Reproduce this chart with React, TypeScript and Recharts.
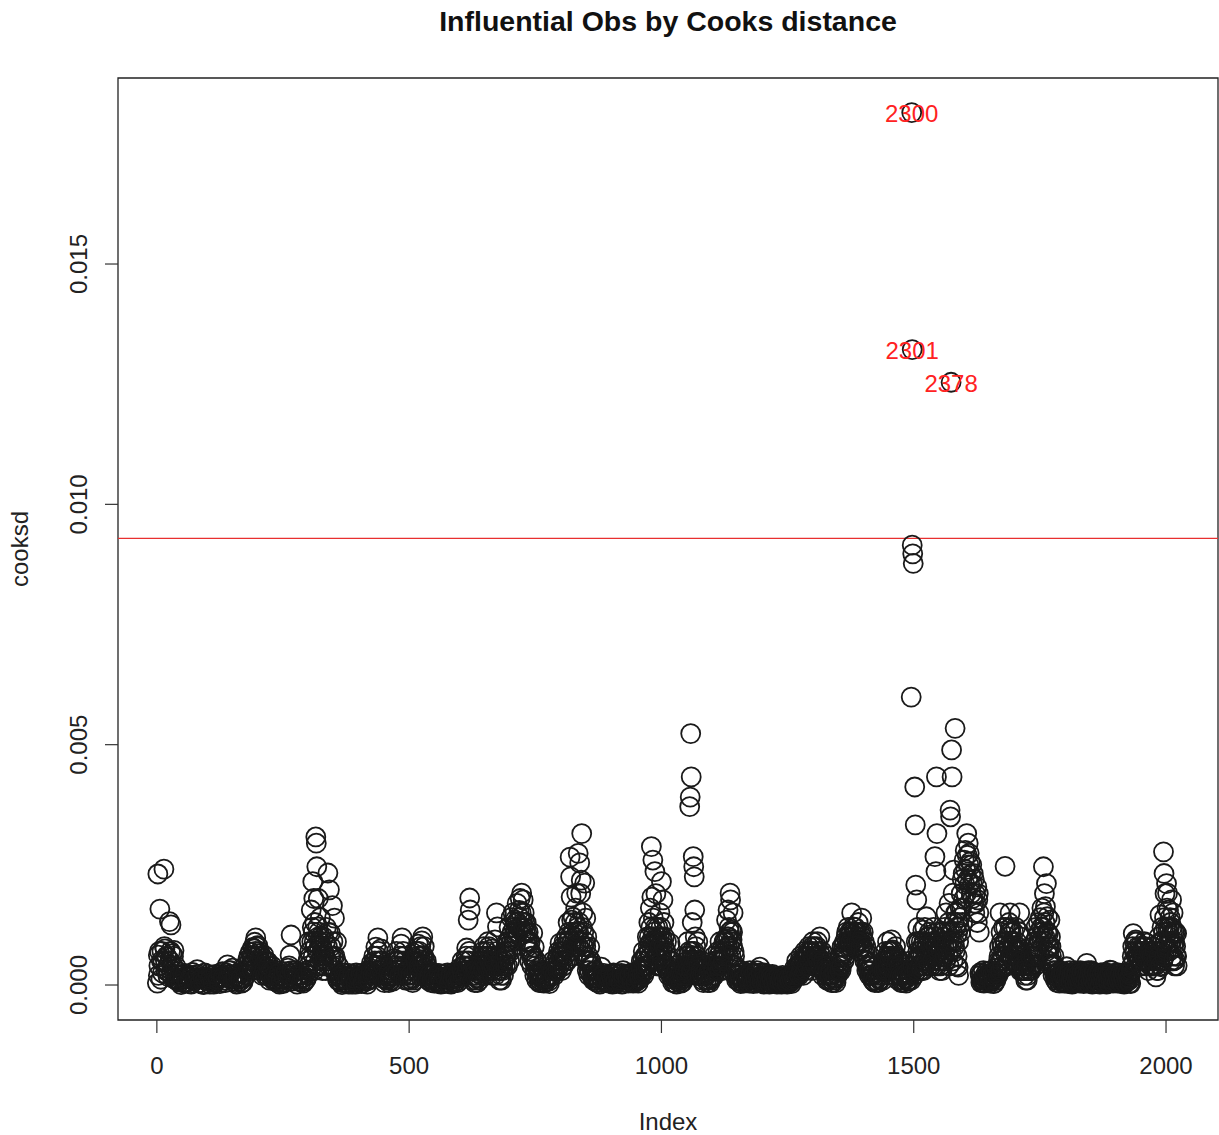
import React from 'react';
import { ReferenceArea, ReferenceLine, Scatter, ScatterChart, XAxis, YAxis } from 'recharts';

const obsStart: [number, number][] = [
  [1, 0.00004], [2, 0.00231], [3, 0.00062], [5, 0.0007], [6, 0.00158], [8, 0.00012], [10, 0.0007], [12, 0.00048],
  [14, 0.00241], [16, 0.00075], [18, 0.0003], [20, 0.00058], [22, 0.00018], [25, 0.00132], [27, 0.0007], [28, 0.00125],
  [30, 0.00065], [32, 0.0004], [34, 0.00072], [36, 0.00022], [38, 0.00012], [42, 0.00028], [46, 0.00006], [50, 0.00022],
  [55, 0.00004], [60, 0.00018], [65, 0.00003], [70, 0.0002], [75, 0.00008], [80, 0.00032], [85, 0.00015], [90, 0.00002],
  [95, 0.00025], [100, 0.0001], [105, 0.00002], [110, 0.0002], [115, 0.00005], [120, 0.00015], [125, 0.00003],
  [130, 0.00028], [135, 0.0001], [140, 0.00042], [145, 0.00022], [150, 0.00035], [155, 0.00005], [160, 0.00018],
  [165, 0.00008], [170, 0.00025], [175, 0.0004], [180, 0.00052], [185, 0.00068], [188, 0.0004], [190, 0.00078],
  [194, 0.00089], [196, 0.00098], [198, 0.0006], [200, 0.00082], [204, 0.0007], [208, 0.00045], [212, 0.00062],
  [216, 0.0003], [220, 0.00048], [224, 0.00022], [228, 0.0004], [232, 0.00012], [236, 0.0003], [240, 0.00005],
  [245, 0.00018], [250, 0.00003], [255, 0.00022], [260, 0.00035], [264, 0.00062], [266, 0.00104], [270, 0.00015],
  [275, 0.0003], [280, 0.00008], [285, 0.0002], [290, 0.00004], [295, 0.00025], [300, 0.0005],
];

const obsFirstPeak: [number, number][] = [
  [302, 0.0009], [306, 0.00156], [308, 0.0012], [309, 0.00215], [311, 0.0018], [313, 0.0013], [315, 0.00308],
  [316, 0.00295], [317, 0.00246], [319, 0.00121], [320, 0.0018], [322, 0.0008], [324, 0.0014], [326, 0.0006],
  [330, 0.001], [332, 0.0004], [336, 0.0012], [339, 0.00233], [342, 0.00198], [344, 0.00108], [345, 0.0008],
  [348, 0.00165], [350, 0.0006], [352, 0.00139], [354, 0.0003], [356, 0.0009], [358, 0.00012], [360, 0.0004],
];

const obsMiddle: [number, number][] = [
  [365, 0.00005], [370, 0.0002], [375, 0.0001], [380, 0.00002], [385, 0.00018], [390, 0.00006], [395, 0.00025],
  [400, 0.0001], [405, 0.00003], [410, 0.0002], [415, 0.00008], [420, 0.0003], [425, 0.00045], [430, 0.0006],
  [434, 0.00079], [438, 0.00098], [440, 0.0005], [444, 0.00075], [448, 0.0003], [452, 0.00012], [456, 0.00025],
  [460, 0.00005], [465, 0.0003], [470, 0.00055], [475, 0.0007], [480, 0.0004], [484, 0.00085], [486, 0.00098],
  [490, 0.0006], [494, 0.0003], [498, 0.0001], [502, 0.00035], [506, 0.00015], [510, 0.0005], [514, 0.0007],
  [518, 0.00085], [522, 0.0006], [525, 0.00092], [527, 0.001], [530, 0.0008], [534, 0.0005], [538, 0.0003],
  [542, 0.00012], [546, 0.00025], [550, 0.00004], [555, 0.0002], [560, 0.00008], [565, 0.00022], [570, 0.00003],
  [575, 0.00018], [580, 0.0001], [585, 0.00025], [590, 0.00005], [595, 0.0002], [600, 0.00035], [605, 0.0005],
  [610, 0.0003], [614, 0.00077], [617, 0.00135], [620, 0.00181], [621, 0.00156], [624, 0.0006], [628, 0.00035],
  [632, 0.0001], [636, 0.00025], [640, 0.0004], [644, 0.0006], [648, 0.0008], [652, 0.00045], [656, 0.0009],
  [660, 0.0006], [664, 0.00075], [668, 0.0003], [670, 0.00094], [673, 0.0015], [675, 0.00121], [678, 0.0005],
  [682, 0.0002], [686, 0.00035], [690, 0.0006], [694, 0.0009], [698, 0.0012], [702, 0.0014], [706, 0.0015],
  [710, 0.00135], [714, 0.0017], [718, 0.00155], [720, 0.0018], [723, 0.00191], [726, 0.00177], [728, 0.0015],
  [732, 0.0013], [736, 0.0011], [740, 0.0009], [745, 0.00108], [748, 0.00079], [752, 0.0005], [756, 0.00025],
  [760, 0.0001], [765, 0.0003], [770, 0.00005], [775, 0.0002], [780, 0.00035], [785, 0.0005], [790, 0.0003],
  [795, 0.0006], [799, 0.00087], [803, 0.0005], [808, 0.0007], [812, 0.001], [815, 0.0013], [819, 0.00266],
  [820, 0.00225], [821, 0.00183], [822, 0.00135], [825, 0.00141], [828, 0.001], [830, 0.0016], [832, 0.00191],
  [834, 0.0012], [835, 0.00274], [836, 0.0008], [838, 0.00254], [840, 0.0019], [841, 0.00218], [842, 0.00315],
  [844, 0.0015], [846, 0.0011], [848, 0.00212], [850, 0.00139], [852, 0.001], [855, 0.0006], [858, 0.00079],
  [862, 0.0004], [866, 0.00015],
];

const obsThousand: [number, number][] = [
  [870, 0.0003], [875, 0.00005], [881, 0.00037], [885, 0.0002], [890, 0.00005], [895, 0.00018], [900, 0.00008],
  [905, 0.00025], [910, 0.00003], [915, 0.0002], [920, 0.0001], [924, 0.0003], [928, 0.00005], [932, 0.0002],
  [936, 0.00008], [940, 0.00025], [944, 0.00004], [948, 0.0002], [952, 0.0001], [956, 0.0003], [960, 0.0005],
  [964, 0.0007], [968, 0.0004], [972, 0.001], [975, 0.0013], [977, 0.00087], [978, 0.0016], [980, 0.00288],
  [981, 0.00183], [983, 0.0026], [984, 0.00139], [985, 0.0011], [987, 0.00236], [989, 0.0019], [991, 0.0006],
  [993, 0.0012], [995, 0.0004], [997, 0.0015], [1000, 0.00215], [1001, 0.001], [1003, 0.00177], [1005, 0.0013],
  [1008, 0.0007], [1010, 0.0009], [1013, 0.0004], [1017, 0.00087], [1020, 0.0005], [1024, 0.0002], [1028, 0.0004],
  [1032, 0.00008], [1036, 0.0003], [1040, 0.00012], [1044, 0.0003], [1048, 0.0006], [1052, 0.0009], [1055, 0.0004],
  [1056, 0.00371], [1057, 0.00391], [1058, 0.00523], [1059, 0.00433], [1061, 0.0013], [1063, 0.00267],
  [1064, 0.00246], [1065, 0.00225], [1066, 0.00156], [1067, 0.001], [1068, 0.0008], [1070, 0.0006], [1072, 0.0009],
  [1075, 0.0003], [1080, 0.0005], [1085, 0.0002], [1090, 0.00035], [1095, 0.0001], [1100, 0.0003], [1104, 0.0006],
  [1108, 0.0004], [1112, 0.0007], [1116, 0.0009], [1120, 0.0006], [1123, 0.00067], [1126, 0.00094], [1129, 0.00135],
  [1132, 0.00156], [1134, 0.0012], [1136, 0.00191], [1137, 0.00177], [1139, 0.00114], [1140, 0.00094], [1142, 0.0015],
  [1145, 0.0006], [1148, 0.00035], [1152, 0.0001],
];

const obsLate: [number, number][] = [
  [1156, 0.0003], [1160, 0.00005], [1165, 0.0002], [1170, 0.00008], [1175, 0.0003], [1180, 0.00012], [1185, 0.00025],
  [1190, 0.00004], [1195, 0.00037], [1200, 0.0002], [1205, 0.00005], [1210, 0.00018], [1215, 0.00008], [1220, 0.00022],
  [1225, 0.00003], [1230, 0.00015], [1235, 0.00006], [1240, 0.0002], [1245, 0.00003], [1250, 0.00015], [1255, 0.00005],
  [1260, 0.0002], [1264, 0.00035], [1268, 0.0005], [1272, 0.0003], [1276, 0.0006], [1280, 0.0004], [1284, 0.0007],
  [1288, 0.00058], [1292, 0.0008], [1296, 0.0005], [1300, 0.0009], [1304, 0.0006], [1308, 0.0008], [1312, 0.00035],
  [1314, 0.001], [1318, 0.0007], [1322, 0.0004], [1326, 0.0006], [1330, 0.0002], [1334, 0.0004], [1338, 0.0001],
  [1342, 0.0003], [1346, 0.00005], [1350, 0.0003], [1354, 0.00058], [1358, 0.0008], [1362, 0.0005], [1366, 0.001],
  [1370, 0.0012], [1374, 0.0008], [1377, 0.0015], [1380, 0.00121], [1383, 0.00094], [1386, 0.0011], [1390, 0.0013],
  [1394, 0.0009], [1397, 0.00139], [1400, 0.0011], [1404, 0.0007], [1408, 0.0004], [1412, 0.0002], [1416, 0.0004],
  [1420, 0.00008], [1425, 0.0002], [1430, 0.00005], [1435, 0.0003], [1440, 0.0005], [1444, 0.0007], [1448, 0.0009],
  [1452, 0.0006], [1456, 0.00094], [1458, 0.00073], [1460, 0.00052], [1464, 0.0008], [1468, 0.0003], [1472, 0.0005],
  [1476, 0.0001], [1480, 0.00025], [1485, 0.00004], [1490, 0.0002],
];

const obsBigPeak: [number, number][] = [
  [1494, 0.0005], [1495, 0.00599], [1496, 0.01815], [1497, 0.01322], [1497, 0.00915], [1498, 0.00897], [1499, 0.00877],
  [1502, 0.00412], [1503, 0.00333], [1504, 0.00208], [1506, 0.00177], [1508, 0.0012], [1510, 0.0006], [1512, 0.0003],
  [1515, 0.0009], [1518, 0.00114], [1520, 0.0005], [1522, 0.0012], [1525, 0.00142], [1527, 0.0008], [1530, 0.001],
  [1533, 0.0006], [1536, 0.0009], [1539, 0.0012], [1542, 0.00267], [1544, 0.00236], [1545, 0.00433], [1546, 0.00315],
  [1548, 0.0011], [1550, 0.0007], [1553, 0.0004], [1556, 0.0009], [1558, 0.00058], [1561, 0.0012], [1564, 0.0015],
  [1567, 0.0008], [1570, 0.0017], [1572, 0.00364], [1573, 0.0035], [1574, 0.01254], [1575, 0.00489], [1576, 0.00433],
  [1578, 0.00191], [1579, 0.00239], [1580, 0.0013], [1582, 0.00534], [1583, 0.0015], [1585, 0.0015], [1587, 0.00108],
  [1588, 0.00037], [1590, 0.0012], [1592, 0.0016], [1594, 0.0019], [1596, 0.0022], [1598, 0.00232], [1600, 0.0026],
  [1602, 0.0028], [1605, 0.00315], [1608, 0.00295], [1610, 0.00274], [1612, 0.00256], [1615, 0.0025], [1618, 0.00232],
  [1620, 0.0022], [1622, 0.0019], [1625, 0.00204], [1627, 0.00177], [1629, 0.0015], [1631, 0.00025], [1634, 0.0001],
  [1638, 0.0003],
];

const obsEnd: [number, number][] = [
  [1642, 0.00005], [1646, 0.0002], [1650, 0.00008], [1655, 0.00025], [1660, 0.00004], [1665, 0.0002], [1668, 0.0005],
  [1671, 0.0015], [1673, 0.0011], [1675, 0.0008], [1678, 0.0012], [1681, 0.00247], [1683, 0.0006], [1686, 0.001],
  [1689, 0.0013], [1691, 0.0015], [1693, 0.0009], [1696, 0.0005], [1699, 0.0008], [1702, 0.0012], [1705, 0.0004],
  [1708, 0.0007], [1710, 0.0015], [1712, 0.001], [1715, 0.0006], [1718, 0.0003], [1721, 0.0005], [1725, 0.0001],
  [1730, 0.0003], [1735, 0.0006], [1739, 0.0009], [1742, 0.0012], [1745, 0.0008], [1748, 0.0011], [1751, 0.0014],
  [1754, 0.0016], [1757, 0.00246], [1759, 0.0019], [1761, 0.00163], [1763, 0.00211], [1765, 0.00142], [1767, 0.00107],
  [1770, 0.00135], [1772, 0.0008], [1775, 0.00045], [1778, 0.0006], [1782, 0.0003], [1786, 0.00015], [1790, 0.0003],
  [1795, 0.00005], [1800, 0.0002], [1803, 0.00038], [1808, 0.0001], [1812, 0.00025], [1816, 0.00005], [1820, 0.0003],
  [1825, 0.00012], [1830, 0.0003], [1835, 0.00005], [1840, 0.0002], [1843, 0.00045], [1848, 0.0001], [1852, 0.0003],
  [1856, 0.00005], [1860, 0.0002], [1865, 0.0001], [1870, 0.00025], [1875, 0.00004], [1880, 0.0002], [1885, 0.00008],
  [1889, 0.00031], [1893, 0.00005], [1898, 0.0002], [1902, 0.0001], [1906, 0.00025], [1910, 0.00004], [1915, 0.00018],
  [1920, 0.00006], [1925, 0.0002], [1930, 0.00003], [1935, 0.00107], [1937, 0.0007], [1940, 0.00094], [1942, 0.0009],
  [1945, 0.0006], [1948, 0.0008], [1951, 0.0004], [1954, 0.0007], [1957, 0.0009], [1960, 0.0005], [1962, 0.00087],
  [1965, 0.0003], [1968, 0.0006], [1971, 0.0004], [1974, 0.0008], [1977, 0.00052], [1980, 0.00017], [1983, 0.0006],
  [1986, 0.001], [1988, 0.00146], [1990, 0.00038], [1992, 0.0012], [1995, 0.00277], [1996, 0.00232], [1998, 0.0019],
  [2001, 0.00211], [2003, 0.00191], [2005, 0.00156], [2007, 0.0012], [2009, 0.0009], [2011, 0.00177], [2013, 0.0006],
  [2014, 0.0015], [2016, 0.0011], [2018, 0.00052], [2019, 0.0008], [2021, 0.00107], [2022, 0.0004],
];

// the many small values that overlap into the dark band along the bottom (first half)
const obsBandA: [number, number][] = [
  [3, 0.0002], [9, 0.0005], [15, 0.0008], [19, 0.0006], [23, 0.0004], [29, 0.0002], [33, 0.0006], [39, 0.0001],
  [44, 0.00015], [48, 0.00001], [53, 0.00012], [58, 0.00007], [63, 0.00019], [68, 0.00002], [73, 0.00011], [78, 0.00016],
  [83, 0.00004], [88, 0.00013], [93, 0.00001], [98, 0.00017], [103, 0.00008], [108, 0.00012], [113, 0.00002],
  [118, 0.00009], [123, 0.00018], [128, 0.00006], [133, 0.00016], [138, 0.00025], [143, 0.0003], [148, 0.00012],
  [153, 0.0002], [158, 0.00002], [163, 0.00012], [168, 0.00004], [173, 0.00015], [178, 0.0003], [182, 0.0006],
  [186, 0.0004], [191, 0.0006], [193, 0.00075], [197, 0.0008], [202, 0.00065], [206, 0.0005], [210, 0.0004],
  [214, 0.0005], [218, 0.00035], [222, 0.0003], [226, 0.00025], [230, 0.0002], [234, 0.00008], [238, 0.00018],
  [243, 0.00002], [248, 0.00012], [253, 0.00006], [258, 0.00014], [262, 0.0004], [268, 0.00008], [273, 0.0002],
  [278, 0.00002], [283, 0.00012], [288, 0.00015], [293, 0.00008], [298, 0.0003], [304, 0.0006], [307, 0.0009],
  [310, 0.0011], [312, 0.0009], [314, 0.0005], [318, 0.0007], [321, 0.0011], [323, 0.0005], [325, 0.001], [328, 0.0003],
  [331, 0.0007], [334, 0.0009], [337, 0.0005], [340, 0.0011], [343, 0.0006], [347, 0.0004], [349, 0.0009], [353, 0.0006],
  [357, 0.0002], [362, 0.00015], [367, 0.00001], [372, 0.00012], [377, 0.00005], [382, 0.00016], [387, 0.00002],
  [392, 0.00012], [397, 0.00006], [402, 0.00018], [407, 0.00008], [412, 0.00013], [417, 0.00002], [422, 0.0002],
  [427, 0.0004], [432, 0.0005], [436, 0.0006], [442, 0.0003], [446, 0.0005], [450, 0.0002], [454, 0.0001],
  [458, 0.00018], [463, 0.0001], [467, 0.0002], [472, 0.0004], [477, 0.0005], [482, 0.0006], [488, 0.0007],
  [492, 0.0004], [496, 0.0002], [500, 0.0002], [504, 0.0001], [508, 0.0003], [512, 0.0004], [516, 0.0005],
  [520, 0.0007], [524, 0.0004], [529, 0.0006], [532, 0.0003], [536, 0.0002], [540, 0.0001], [544, 0.00005],
  [548, 0.00015], [553, 0.00008], [558, 0.00017], [563, 0.00002], [568, 0.00012], [573, 0.00007], [578, 0.00015],
  [583, 0.00002], [588, 0.00012], [593, 0.00008], [598, 0.00015], [602, 0.0002], [607, 0.0004], [612, 0.0005],
  [616, 0.0004], [619, 0.0007], [623, 0.0003], [626, 0.0002], [630, 0.00005], [634, 0.0002], [638, 0.0003],
  [642, 0.0005], [646, 0.0007], [650, 0.0006], [654, 0.0007], [658, 0.0008], [662, 0.0005], [666, 0.0006],
  [672, 0.0004], [676, 0.0006], [680, 0.0003], [684, 0.0004], [688, 0.0005], [692, 0.0008], [696, 0.0007],
  [700, 0.001], [704, 0.0011], [708, 0.0012], [712, 0.0013], [716, 0.0011], [719, 0.0014], [722, 0.0015],
  [725, 0.0013], [730, 0.0011], [734, 0.0009], [738, 0.0007], [742, 0.0006], [747, 0.0005], [750, 0.0003],
  [754, 0.0002], [758, 0.00005], [762, 0.00015], [767, 0.00004], [772, 0.00012], [777, 0.00008], [782, 0.00018],
  [787, 0.0003], [792, 0.0004], [797, 0.0005], [801, 0.0007], [805, 0.0008], [810, 0.0005], [814, 0.0009],
  [817, 0.0011], [823, 0.0009], [826, 0.0011], [829, 0.0013], [831, 0.0008], [833, 0.0011], [837, 0.0013],
  [839, 0.0009], [843, 0.0012], [845, 0.0008], [847, 0.0006], [849, 0.0009], [851, 0.0005], [853, 0.0003],
  [857, 0.0003], [860, 0.0005], [864, 0.0002], [868, 0.0001], [873, 0.00015], [878, 0.00002], [883, 0.00012],
  [888, 0.00016], [893, 0.00008], [898, 0.00013], [903, 0.00002], [908, 0.00011], [913, 0.00006], [918, 0.00015],
  [922, 0.00002], [926, 0.00012], [930, 0.00018], [934, 0.00004], [938, 0.00013], [942, 0.00016], [946, 0.00007],
  [950, 0.00014], [954, 0.00004], [958, 0.0002], [962, 0.0003], [966, 0.0004], [970, 0.0006], [974, 0.0008],
  [976, 0.001], [979, 0.0012], [982, 0.0009], [986, 0.0007], [988, 0.0012], [990, 0.0009], [992, 0.0004],
  [994, 0.0008], [996, 0.001], [998, 0.0006], [999, 0.0012], [1002, 0.0007], [1004, 0.0005], [1006, 0.001],
  [1009, 0.0004], [1011, 0.0006], [1014, 0.0002], [1016, 0.0005], [1019, 0.0003],
];

// bottom band, second half
const obsBandB: [number, number][] = [
  [1022, 0.00005], [1026, 0.00015], [1030, 0.00002], [1034, 0.00012], [1038, 0.00018], [1042, 0.00006], [1046, 0.0002],
  [1050, 0.0004], [1053, 0.0006], [1054, 0.0002], [1060, 0.0007], [1062, 0.0005], [1069, 0.0004], [1071, 0.0002],
  [1073, 0.0005], [1077, 0.0002], [1082, 0.0001], [1087, 0.00018], [1092, 0.00005], [1097, 0.00015], [1102, 0.0002],
  [1106, 0.0004], [1110, 0.0005], [1114, 0.0004], [1118, 0.0005], [1121, 0.0003], [1125, 0.0007], [1128, 0.0009],
  [1131, 0.0008], [1133, 0.001], [1135, 0.0008], [1138, 0.0006], [1141, 0.0011], [1143, 0.0004], [1146, 0.0002],
  [1150, 0.0002], [1154, 0.00008], [1158, 0.00016], [1163, 0.00004], [1168, 0.00013], [1173, 0.00018], [1178, 0.00005],
  [1183, 0.00012], [1188, 0.00016], [1193, 0.00008], [1198, 0.00013], [1203, 0.00002], [1208, 0.00011], [1213, 0.00014],
  [1218, 0.00006], [1223, 0.00012], [1228, 0.00005], [1233, 0.0001], [1238, 0.00002], [1243, 0.0001], [1248, 0.00006],
  [1253, 0.00012], [1258, 0.00003], [1262, 0.00016], [1266, 0.0002], [1270, 0.0002], [1274, 0.0004], [1278, 0.0003],
  [1282, 0.0005], [1286, 0.0004], [1290, 0.0006], [1294, 0.0004], [1298, 0.0007], [1302, 0.0005], [1306, 0.0007],
  [1310, 0.0006], [1316, 0.0005], [1320, 0.0003], [1324, 0.0004], [1328, 0.0001], [1332, 0.0003], [1336, 0.0002],
  [1340, 0.00005], [1344, 0.00015], [1348, 0.0002], [1352, 0.0004], [1356, 0.0003], [1360, 0.0007], [1364, 0.0006],
  [1368, 0.0009], [1372, 0.001], [1376, 0.0011], [1379, 0.0009], [1382, 0.0011], [1385, 0.0008], [1388, 0.001],
  [1392, 0.0007], [1396, 0.0011], [1399, 0.0008], [1402, 0.0009], [1406, 0.0005], [1410, 0.0003], [1414, 0.0006],
  [1418, 0.0002], [1423, 0.00005], [1428, 0.00015], [1433, 0.0001], [1438, 0.0002], [1442, 0.0004], [1446, 0.0005],
  [1450, 0.0004], [1454, 0.0007], [1462, 0.0004], [1466, 0.0006], [1470, 0.0002], [1474, 0.0003], [1478, 0.00005],
  [1483, 0.00015], [1488, 0.00008], [1492, 0.0003], [1500, 0.0003], [1505, 0.0009], [1507, 0.0005], [1509, 0.0009],
  [1511, 0.0004], [1514, 0.0006], [1517, 0.0008], [1519, 0.0003], [1521, 0.0009], [1524, 0.0006], [1526, 0.001],
  [1529, 0.0005], [1532, 0.0008], [1535, 0.0004], [1538, 0.0007], [1540, 0.001], [1543, 0.0006], [1547, 0.0009],
  [1549, 0.0005], [1552, 0.0008], [1555, 0.0005], [1557, 0.0011], [1560, 0.0008], [1563, 0.0005], [1566, 0.0011],
  [1569, 0.0013], [1571, 0.0009], [1577, 0.0011], [1581, 0.0008], [1584, 0.0012], [1586, 0.0006], [1589, 0.0009],
  [1591, 0.0014], [1593, 0.0011], [1595, 0.0016], [1597, 0.0013], [1599, 0.0018], [1601, 0.0021], [1603, 0.0024],
  [1604, 0.0019], [1606, 0.0027], [1607, 0.0022], [1609, 0.0025], [1611, 0.0021], [1613, 0.0023], [1614, 0.0019],
  [1616, 0.0021], [1617, 0.0018], [1619, 0.0017], [1621, 0.0015], [1623, 0.0017], [1626, 0.0013], [1628, 0.0019],
  [1630, 0.0011], [1636, 0.00005], [1640, 0.00015], [1644, 0.0001], [1648, 0.00018], [1652, 0.00004], [1657, 0.00012],
  [1662, 0.00015], [1666, 0.0003], [1670, 0.0008], [1672, 0.0005], [1674, 0.0009], [1677, 0.0006], [1680, 0.0009],
  [1682, 0.0012], [1685, 0.0007], [1688, 0.0005], [1690, 0.0011], [1692, 0.0012], [1695, 0.0008], [1698, 0.0011],
  [1701, 0.0007], [1704, 0.0009], [1707, 0.0004], [1709, 0.0011], [1711, 0.0007], [1714, 0.0003], [1717, 0.0005],
  [1720, 0.0002], [1723, 0.0003], [1727, 0.0005], [1732, 0.0004], [1737, 0.0008], [1740, 0.0006], [1744, 0.001],
  [1747, 0.0013], [1750, 0.0009], [1753, 0.0012], [1756, 0.0011], [1758, 0.0015], [1760, 0.0013], [1762, 0.0009],
  [1764, 0.0011], [1766, 0.0008], [1768, 0.0006], [1771, 0.001], [1774, 0.0004], [1777, 0.0003], [1780, 0.0002],
  [1784, 0.00005], [1788, 0.00018], [1793, 0.00012], [1798, 0.00004], [1805, 0.0002], [1810, 0.00015], [1814, 0.00002],
  [1818, 0.00016], [1822, 0.00008], [1827, 0.0002], [1832, 0.00012], [1837, 0.00003], [1842, 0.00014], [1846, 0.0003],
  [1850, 0.00016], [1854, 0.00002], [1858, 0.00012], [1862, 0.00018], [1867, 0.00005], [1872, 0.00014], [1877, 0.00015],
  [1882, 0.00002], [1887, 0.00015], [1891, 0.0002], [1896, 0.00008], [1900, 0.00015], [1904, 0.00004], [1908, 0.00016],
  [1912, 0.0001], [1917, 0.00002], [1922, 0.00012], [1927, 0.0001], [1932, 0.0004], [1934, 0.0008], [1938, 0.0009],
  [1941, 0.0006], [1944, 0.0008], [1947, 0.0005], [1950, 0.0007], [1953, 0.0005], [1956, 0.0006], [1959, 0.0008],
  [1961, 0.0004], [1964, 0.0007], [1967, 0.0005], [1970, 0.0007], [1973, 0.0005], [1976, 0.0006], [1979, 0.0004],
  [1982, 0.0003], [1985, 0.0007], [1987, 0.0005], [1989, 0.0009], [1991, 0.0007], [1994, 0.0005], [1997, 0.0014],
  [1999, 0.0012], [2000, 0.0008], [2002, 0.0016], [2004, 0.0011], [2006, 0.0007], [2008, 0.0014], [2010, 0.0005],
  [2012, 0.0012], [2015, 0.0008], [2017, 0.0004], [2020, 0.0006],
];

// still more of the crowded low values, up to index 1020
const obsBandC: [number, number][] = [
  [4, 0.0004], [11, 0.00025], [17, 0.0005], [21, 0.0003], [26, 0.0005], [31, 0.00015], [37, 0.0004], [41, 0.00008],
  [45, 0.0002], [51, 0.00014], [56, 0.00024], [61, 0.00006], [66, 0.00016], [71, 0.00026], [76, 0.00013], [81, 0.00022],
  [86, 0.00005], [91, 0.00016], [96, 0.0001], [101, 0.00022], [106, 0.00013], [111, 0.00006], [116, 0.00022],
  [121, 0.00012], [126, 0.00024], [131, 0.00016], [136, 0.00005], [141, 0.00018], [146, 0.0003], [151, 0.00008],
  [156, 0.00015], [161, 0.00025], [166, 0.00014], [171, 0.00006], [176, 0.0002], [181, 0.00035], [184, 0.0005],
  [187, 0.0006], [189, 0.0003], [192, 0.0005], [195, 0.0007], [199, 0.0004], [201, 0.0006], [203, 0.0005], [205, 0.0003],
  [207, 0.0006], [209, 0.0002], [211, 0.0004], [213, 0.0003], [215, 0.0002], [217, 0.0005], [219, 0.0002], [221, 0.0004],
  [223, 0.0001], [225, 0.0003], [227, 0.00015], [229, 0.0003], [231, 0.0001], [235, 0.00022], [239, 0.00014],
  [242, 0.00025], [246, 0.00009], [251, 0.00017], [256, 0.00028], [259, 0.0001], [263, 0.0002], [267, 0.0003],
  [271, 0.00025], [276, 0.00012], [281, 0.00022], [286, 0.00006], [291, 0.00016], [296, 0.00012], [299, 0.0002],
  [301, 0.0004], [303, 0.0007], [305, 0.0003], [310, 0.0006], [312, 0.0003], [314, 0.0008], [318, 0.0004], [320, 0.001],
  [323, 0.0009], [327, 0.0008], [329, 0.0005], [333, 0.0006], [335, 0.0003], [338, 0.0008], [341, 0.0004], [346, 0.0006],
  [351, 0.0003], [355, 0.0005], [359, 0.0001], [361, 0.00008], [364, 0.0002], [368, 0.00012], [371, 0.00025],
  [374, 0.00004], [378, 0.00016], [381, 0.00024], [384, 0.0001], [388, 0.00022], [391, 0.00014], [394, 0.00002],
  [398, 0.0002], [401, 0.00014], [404, 0.00024], [408, 0.00004], [411, 0.00016], [414, 0.00024], [418, 0.0001],
  [421, 0.0001], [424, 0.0003], [428, 0.0002], [431, 0.0004], [433, 0.0002], [437, 0.0004], [439, 0.0007], [441, 0.0002],
  [443, 0.0005], [445, 0.0002], [447, 0.00015], [449, 0.0004], [451, 0.00005], [453, 0.0002], [457, 0.0001],
  [459, 0.00025], [462, 0.00015], [464, 0.0002], [468, 0.00008], [471, 0.0002], [474, 0.0005], [478, 0.0003],
  [481, 0.0002], [483, 0.0005], [487, 0.0004], [489, 0.0002], [491, 0.0005], [493, 0.0001], [497, 0.00028],
  [501, 0.00012], [503, 0.00022], [507, 0.00005], [509, 0.0002], [511, 0.0001], [513, 0.0005], [515, 0.0003],
  [517, 0.0006], [519, 0.0004], [521, 0.0002], [523, 0.0008], [526, 0.0006], [528, 0.0004], [531, 0.0005], [533, 0.0002],
  [535, 0.0004], [537, 0.0001], [539, 0.0002], [541, 0.00022], [545, 0.00012], [549, 0.00025], [552, 0.00014],
  [556, 0.00004], [559, 0.00024], [562, 0.00014], [566, 0.00003], [569, 0.00022], [572, 0.00015], [576, 0.00025],
  [579, 0.00003], [582, 0.0002], [586, 0.00012], [589, 0.00022], [592, 0.00015], [596, 0.00005], [599, 0.00025],
  [601, 0.0001], [604, 0.0003], [606, 0.0002], [609, 0.0004], [611, 0.0002], [613, 0.0006], [615, 0.0003], [618, 0.0005],
  [622, 0.0004], [625, 0.0001], [627, 0.0003], [629, 0.0002], [631, 0.0003], [633, 0.00015], [635, 0.00005],
  [637, 0.00015], [639, 0.0001], [641, 0.0003], [643, 0.0002], [645, 0.0004], [647, 0.0003], [649, 0.0005], [651, 0.0002],
  [653, 0.0004], [655, 0.0006], [657, 0.0003], [659, 0.0005], [661, 0.0003], [663, 0.0004], [665, 0.0002], [667, 0.0004],
  [669, 0.0005], [671, 0.0002], [674, 0.0007], [677, 0.0003], [679, 0.0001], [681, 0.0005], [683, 0.0001], [685, 0.0003],
  [687, 0.0002], [689, 0.0007], [691, 0.0004], [693, 0.0006], [695, 0.0004], [697, 0.0009], [699, 0.0005], [701, 0.0007],
  [703, 0.0009], [705, 0.0008], [707, 0.001], [709, 0.0009], [711, 0.0011], [713, 0.001], [715, 0.0013], [717, 0.0012],
  [721, 0.0012], [724, 0.0011], [727, 0.0012], [729, 0.0013], [731, 0.0009], [733, 0.0011], [735, 0.0008], [737, 0.0009],
  [739, 0.0005], [741, 0.0007], [743, 0.0004], [746, 0.0006], [749, 0.0002], [751, 0.0004], [753, 0.0001], [755, 0.0003],
  [757, 0.0002], [759, 0.0003], [761, 0.00005], [764, 0.00018], [768, 0.00025], [771, 0.00008], [774, 0.00015],
  [778, 0.00003], [781, 0.0002], [784, 0.0003], [788, 0.0002], [791, 0.0005], [794, 0.0003], [796, 0.0007], [798, 0.0004],
  [800, 0.0006], [802, 0.0003], [804, 0.0006], [806, 0.0004], [807, 0.0009], [809, 0.0006], [811, 0.0008], [813, 0.0005],
  [816, 0.0007], [818, 0.001], [824, 0.0006], [827, 0.0008], [836, 0.0011], [842, 0.0007], [846, 0.0008], [850, 0.0008],
  [854, 0.0005], [856, 0.0002], [859, 0.0004], [861, 0.0002], [863, 0.0004], [865, 0.0001], [867, 0.0003], [869, 0.0002],
  [871, 0.00006], [874, 0.00024], [877, 0.0001], [880, 0.00018], [882, 0.00005], [886, 0.00024], [889, 0.0001],
  [892, 0.00018], [896, 0.00004], [899, 0.00023], [902, 0.00012], [906, 0.00018], [909, 0.00008], [912, 0.00024],
  [916, 0.0001], [919, 0.00005], [921, 0.00024], [925, 0.00014], [929, 0.00022], [933, 0.00012], [937, 0.0002],
  [941, 0.00008], [945, 0.00024], [949, 0.00006], [953, 0.00022], [957, 0.00012], [959, 0.00035], [961, 0.0002],
  [963, 0.0005], [965, 0.0002], [967, 0.0006], [969, 0.0003], [971, 0.0005], [973, 0.0004], [975, 0.0007], [979, 0.0006],
  [981, 0.0008], [983, 0.001], [985, 0.0005], [987, 0.0009], [989, 0.0006], [991, 0.001], [993, 0.0007], [995, 0.0009],
  [997, 0.0008], [999, 0.0004], [1001, 0.0005], [1003, 0.0009], [1005, 0.0008], [1007, 0.0004], [1009, 0.0007],
  [1012, 0.0003], [1015, 0.0003], [1018, 0.0002],
];

// still more of the crowded low values, after index 1020
const obsBandD: [number, number][] = [
  [1021, 0.00025], [1023, 0.00012], [1025, 0.00005], [1027, 0.00025], [1029, 0.00014], [1031, 0.0003], [1033, 0.00018],
  [1035, 0.00005], [1037, 0.00022], [1039, 0.00004], [1041, 0.0002], [1043, 0.00012], [1045, 0.0004], [1047, 0.0003],
  [1049, 0.0002], [1051, 0.0005], [1053, 0.0003], [1055, 0.0007], [1057, 0.0005], [1059, 0.0003], [1061, 0.0006],
  [1063, 0.0004], [1065, 0.0007], [1067, 0.0005], [1069, 0.0002], [1071, 0.0005], [1074, 0.0004], [1076, 0.0002],
  [1078, 0.0003], [1081, 0.0002], [1083, 0.00005], [1086, 0.00025], [1089, 0.0001], [1091, 0.00022], [1094, 0.00028],
  [1096, 0.00005], [1099, 0.00012], [1101, 0.0004], [1103, 0.0003], [1105, 0.0002], [1107, 0.0005], [1109, 0.0003],
  [1111, 0.0004], [1113, 0.0006], [1115, 0.0003], [1117, 0.0007], [1119, 0.0004], [1122, 0.0005], [1124, 0.0009],
  [1127, 0.0006], [1130, 0.001], [1133, 0.0006], [1135, 0.0011], [1138, 0.0009], [1141, 0.0008], [1144, 0.0007],
  [1147, 0.0004], [1149, 0.0001], [1151, 0.00022], [1155, 0.00014], [1157, 0.00003], [1159, 0.00025], [1162, 0.00012],
  [1164, 0.00028], [1167, 0.00006], [1169, 0.00022], [1172, 0.00012], [1174, 0.00004], [1177, 0.00025], [1179, 0.00015],
  [1182, 0.00003], [1184, 0.00022], [1187, 0.0001], [1189, 0.0003], [1192, 0.00016], [1194, 0.00005], [1197, 0.00025],
  [1199, 0.00008], [1202, 0.00016], [1204, 0.00025], [1207, 0.00004], [1209, 0.00014], [1212, 0.00022], [1214, 0.00002],
  [1217, 0.00018], [1219, 0.00012], [1222, 0.00004], [1224, 0.00018], [1227, 0.00012], [1229, 0.00002], [1232, 0.00018],
  [1234, 0.00008], [1237, 0.00015], [1239, 0.00004], [1242, 0.00016], [1244, 0.00008], [1247, 0.00018], [1249, 0.00002],
  [1252, 0.00014], [1254, 0.00008], [1257, 0.00016], [1259, 0.0001], [1261, 0.00025], [1263, 0.00012], [1265, 0.0003],
  [1267, 0.0002], [1269, 0.0004], [1271, 0.0004], [1273, 0.0002], [1275, 0.0005], [1277, 0.0003], [1279, 0.0005],
  [1281, 0.0002], [1283, 0.0006], [1285, 0.0003], [1287, 0.0006], [1289, 0.0004], [1291, 0.0007], [1293, 0.0005],
  [1295, 0.0007], [1297, 0.0003], [1299, 0.0008], [1301, 0.0006], [1303, 0.0008], [1305, 0.0004], [1307, 0.0006],
  [1309, 0.0009], [1311, 0.0005], [1313, 0.0007], [1315, 0.0004], [1317, 0.0006], [1319, 0.0002], [1321, 0.0005],
  [1323, 0.0003], [1325, 0.0002], [1327, 0.0004], [1329, 0.0003], [1331, 0.0001], [1333, 0.0002], [1335, 0.0003],
  [1337, 0.00005], [1339, 0.0002], [1341, 0.00015], [1343, 0.00025], [1345, 0.0001], [1347, 0.0003], [1349, 0.0002],
  [1351, 0.0005], [1353, 0.0003], [1355, 0.0006], [1357, 0.0004], [1359, 0.0006], [1361, 0.0008], [1363, 0.0009],
  [1365, 0.0007], [1367, 0.0011], [1369, 0.0008], [1371, 0.0009], [1373, 0.0011], [1375, 0.0009], [1378, 0.001],
  [1381, 0.0008], [1384, 0.0012], [1387, 0.0009], [1389, 0.0011], [1391, 0.0009], [1393, 0.0011], [1395, 0.0008],
  [1398, 0.001], [1401, 0.0007], [1403, 0.0005], [1405, 0.0008], [1407, 0.0003], [1409, 0.0005], [1411, 0.0004],
  [1413, 0.0003], [1415, 0.0002], [1417, 0.0003], [1419, 0.0001], [1421, 0.00022], [1424, 0.0001], [1427, 0.00025],
  [1429, 0.00006], [1432, 0.0002], [1434, 0.00012], [1437, 0.00035], [1439, 0.0001], [1441, 0.0003], [1443, 0.0005],
  [1445, 0.0003], [1447, 0.0006], [1449, 0.0004], [1451, 0.0007], [1453, 0.0005], [1455, 0.0006], [1457, 0.0004],
  [1459, 0.0007], [1461, 0.0006], [1463, 0.0002], [1465, 0.0004], [1467, 0.0005], [1469, 0.0001], [1471, 0.0004],
  [1473, 0.0002], [1475, 0.00005], [1477, 0.00018], [1479, 0.0001], [1482, 0.00022], [1484, 0.00012], [1487, 0.00025],
  [1489, 0.0001], [1491, 0.0001], [1493, 0.0002], [1495, 0.0001], [1498, 0.0004], [1501, 0.0002], [1503, 0.0005],
  [1506, 0.0003], [1508, 0.0007], [1510, 0.0009], [1512, 0.0007], [1513, 0.0004], [1516, 0.0003], [1518, 0.0006],
  [1520, 0.0009], [1523, 0.0004], [1525, 0.0008], [1528, 0.0007], [1530, 0.0004], [1531, 0.0011], [1534, 0.0008],
  [1537, 0.0005], [1539, 0.0009], [1541, 0.0004], [1544, 0.0008], [1546, 0.0004], [1548, 0.0007], [1551, 0.0003],
  [1554, 0.0007], [1556, 0.0003], [1559, 0.001], [1562, 0.0006], [1565, 0.0008], [1568, 0.0006], [1570, 0.0004],
  [1572, 0.0011], [1574, 0.0007], [1576, 0.0009], [1578, 0.0005], [1580, 0.0009], [1582, 0.0007], [1585, 0.0004],
  [1587, 0.0013], [1589, 0.0002], [1632, 0.0002], [1633, 0.00005], [1635, 0.00025], [1637, 0.00012], [1639, 0.00004],
  [1641, 0.0002], [1643, 0.00012], [1645, 0.00028], [1647, 0.00006], [1649, 0.0002], [1651, 0.00012], [1653, 0.0003],
  [1654, 0.00008], [1656, 0.0002], [1658, 0.00003], [1659, 0.00015], [1661, 0.00025], [1663, 0.0001], [1664, 0.00035],
  [1667, 0.0002], [1669, 0.0006], [1672, 0.0003], [1674, 0.0005], [1676, 0.0004], [1679, 0.0007], [1682, 0.0009],
  [1684, 0.0004], [1687, 0.0008], [1690, 0.0006], [1693, 0.0011], [1694, 0.0006], [1697, 0.0009], [1700, 0.0005],
  [1703, 0.0006], [1706, 0.0008], [1709, 0.0005], [1711, 0.0003], [1713, 0.0005], [1716, 0.0004], [1719, 0.0003],
  [1722, 0.0001], [1724, 0.0004], [1726, 0.0002], [1728, 0.0003], [1731, 0.0006], [1733, 0.0003], [1736, 0.0004],
  [1738, 0.0006], [1741, 0.0004], [1743, 0.0007], [1746, 0.0006], [1749, 0.0007], [1752, 0.001], [1755, 0.0008],
  [1757, 0.0012], [1760, 0.001], [1763, 0.0007], [1765, 0.0011], [1767, 0.0005], [1769, 0.0008], [1771, 0.0004],
  [1773, 0.0006], [1776, 0.0002], [1779, 0.0004], [1781, 0.0001], [1783, 0.00022], [1785, 0.00012], [1787, 0.00028],
  [1789, 0.00004], [1791, 0.00016], [1792, 0.00025], [1794, 0.00008], [1796, 0.00018], [1797, 0.00028], [1799, 0.00012],
  [1801, 0.00005], [1802, 0.00025], [1804, 0.00014], [1806, 0.00003], [1807, 0.00022], [1809, 0.0003], [1811, 0.00008],
  [1813, 0.0002], [1815, 0.00012], [1817, 0.00025], [1819, 0.00004], [1821, 0.00018], [1823, 0.00026], [1824, 0.00006],
  [1826, 0.00015], [1828, 0.00024], [1829, 0.00004], [1831, 0.00018], [1833, 0.00026], [1834, 0.0001], [1836, 0.0002],
  [1838, 0.00008], [1839, 0.00028], [1841, 0.00012], [1844, 0.00022], [1845, 0.00004], [1847, 0.00018], [1849, 0.00028],
  [1851, 0.00008], [1853, 0.0002], [1855, 0.00012], [1857, 0.00026], [1859, 0.00004], [1861, 0.00012], [1863, 0.00024],
  [1864, 0.00006], [1866, 0.00016], [1868, 0.00024], [1869, 0.00002], [1871, 0.0001], [1873, 0.00022], [1874, 0.00008],
  [1876, 0.00018], [1878, 0.00026], [1879, 0.00004], [1881, 0.00012], [1883, 0.00022], [1884, 0.00014], [1886, 0.00004],
  [1888, 0.00024], [1890, 0.00012], [1892, 0.0003], [1894, 0.00016], [1895, 0.00004], [1897, 0.0002], [1899, 0.00012],
  [1901, 0.00025], [1903, 0.00005], [1905, 0.00016], [1907, 0.00008], [1909, 0.00024], [1911, 0.00012], [1913, 0.00003],
  [1914, 0.00022], [1916, 0.00012], [1918, 0.00025], [1919, 0.00004], [1921, 0.00016], [1923, 0.00008], [1924, 0.00025],
  [1926, 0.00014], [1928, 0.00004], [1929, 0.0002], [1931, 0.0003], [1933, 0.0006], [1936, 0.0005], [1939, 0.0007],
  [1943, 0.0006], [1946, 0.0007], [1949, 0.0004], [1952, 0.0006], [1955, 0.0008], [1958, 0.0006], [1963, 0.0005],
  [1966, 0.0007], [1969, 0.0004], [1972, 0.0006], [1975, 0.0004], [1978, 0.0007], [1981, 0.0005], [1984, 0.0003],
  [1986, 0.0006], [1989, 0.0004], [1993, 0.0009], [1995, 0.0011], [1997, 0.0006], [1999, 0.0009], [2001, 0.0007],
  [2003, 0.0012], [2005, 0.0009], [2007, 0.001], [2009, 0.0013], [2011, 0.0009], [2013, 0.0011], [2015, 0.0005],
  [2017, 0.0009], [2019, 0.0011], [2021, 0.0006],
];

// influential points (cooksd > cutoff), labelled with their row names
const labelIndex = [1496, 1497, 1574];
const labelValue = [0.01815, 0.01322, 0.01254];
const labelText = ['2300', '2301', '2378'];

const cutoff = 0.00929;
const xTicks = [0, 500, 1000, 1500, 2000];
const yTicks = [0, 0.005, 0.01, 0.015];
const xDomain: [number, number] = [-77, 2103];
const yDomain: [number, number] = [-0.000728, 0.01887];

const FONT = '"Liberation Sans", Arial, sans-serif';

const points = [
  ...obsStart, ...obsFirstPeak, ...obsMiddle, ...obsThousand, ...obsLate, ...obsBigPeak, ...obsEnd,
  ...obsBandA, ...obsBandB, ...obsBandC, ...obsBandD,
].map(([i, v]) => ({ i, v }));
const labels = labelIndex.map((i, k) => ({ i, v: labelValue[k], name: labelText[k] }));

const OpenCircle = (props: any) => (
  <circle cx={props.cx} cy={props.cy} r={9.5} fill="none" stroke="#1a1a1a" strokeWidth={1.8} />
);

const RedLabel = (props: any) => (
  <text x={props.cx} y={props.cy + 9.5} textAnchor="middle" fontSize={24} fill="#f22" fontFamily={FONT}>
    {props.payload.name}
  </text>
);

const XTick = (props: any) => (
  <text x={props.x} y={1074} textAnchor="middle" fontSize={24} fill="#222" fontFamily={FONT}>
    {props.payload.value}
  </text>
);

const YTick = (props: any) => (
  <text
    x={87}
    y={props.y}
    transform={`rotate(-90, 87, ${props.y})`}
    textAnchor="middle"
    fontSize={24}
    fill="#222"
    fontFamily={FONT}
  >
    {props.payload.value.toFixed(3)}
  </text>
);

export default function App() {
  return (
    <div style={{ position: 'absolute', left: 0, top: 0, width: 1219, height: 1135, background: '#fff' }}>
      <ScatterChart width={1219} height={1135} margin={{ top: 78, right: 1, bottom: 0, left: 0 }}>
        <XAxis
          type="number"
          dataKey="i"
          domain={xDomain}
          ticks={xTicks}
          allowDataOverflow
          axisLine={false}
          tickSize={13}
          tickLine={{ stroke: '#333', strokeWidth: 1.2 }}
          height={115}
          tick={XTick}
        />
        <YAxis
          type="number"
          dataKey="v"
          domain={yDomain}
          ticks={yTicks}
          allowDataOverflow
          axisLine={false}
          tickSize={13}
          tickLine={{ stroke: '#333', strokeWidth: 1.2 }}
          width={118}
          tick={YTick}
        />
        <ReferenceArea
          x1={xDomain[0]}
          x2={xDomain[1]}
          y1={yDomain[0]}
          y2={yDomain[1]}
          fill="none"
          fillOpacity={0}
          stroke="#222"
          strokeWidth={1.3}
        />
        <ReferenceLine y={cutoff} stroke="#e83030" strokeWidth={1.2} />
        <Scatter data={points} shape={OpenCircle} isAnimationActive={false} />
        <Scatter data={labels} shape={RedLabel} isAnimationActive={false} />
      </ScatterChart>
      <svg width={1219} height={1135} style={{ position: 'absolute', left: 0, top: 0, pointerEvents: 'none' }}>
        <text x={668} y={31} textAnchor="middle" fontSize={28.5} fontWeight="bold" fill="#111" fontFamily={FONT}>
          Influential Obs by Cooks distance
        </text>
        <text x={668} y={1130} textAnchor="middle" fontSize={24} fill="#222" fontFamily={FONT}>
          Index
        </text>
        <text x={28} y={549} transform="rotate(-90, 28, 549)" textAnchor="middle" fontSize={24} fill="#222" fontFamily={FONT}>
          cooksd
        </text>
      </svg>
    </div>
  );
}
